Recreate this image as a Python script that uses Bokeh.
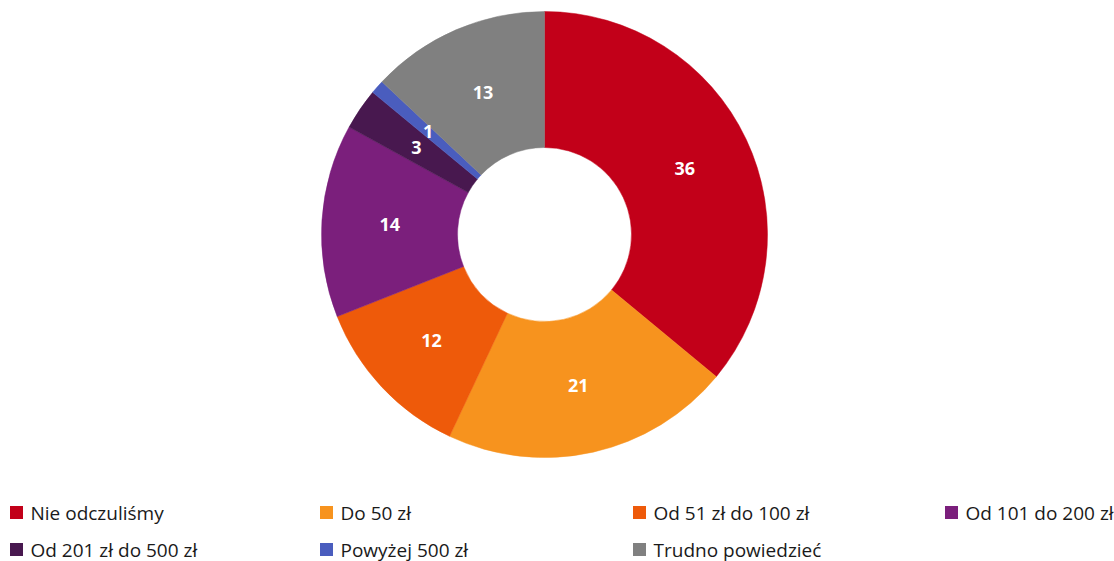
import math
from bokeh.plotting import figure
from bokeh.models import Range1d, ColumnDataSource
from bokeh.core.properties import value
from bokeh.embed import file_html
from bokeh.resources import INLINE

categories = ["Nie odczuliśmy", "Do 50 zł", "Od 51 zł do 100 zł", "Od 101 do 200 zł",
              "Od 201 zł do 500 zł", "Powyżej 500 zł", "Trudno powiedzieć"]
values = [36, 21, 12, 14, 3, 1, 13]
colors = ["#C20019", "#F7931E", "#EE5A0A", "#7B1F7C", "#48184F", "#4A5DBE", "#808080"]

W, H = 1114, 561
PAGE_H = 561

def py(page_y):
    return PAGE_H - page_y

p = figure(width=W, height=H, output_backend="svg", toolbar_location=None,
           x_range=Range1d(0, W), y_range=Range1d(0, H), min_border=0)
p.axis.visible = False
p.grid.visible = False
p.outline_line_color = None
p.background_fill_color = "white"

cx, cy = 544, py(234)
r_in, r_out = 87, 223
total = sum(values)
starts, ends, lx, ly = [], [], [], []
cum = 0
for v in values:
    a0 = math.pi / 2 - 2 * math.pi * cum / total
    a1 = math.pi / 2 - 2 * math.pi * (cum + v) / total
    starts.append(a0)
    ends.append(a1)
    mid = (a0 + a1) / 2
    rm = (r_in + r_out) / 2
    lx.append(cx + rm * math.cos(mid))
    ly.append(cy + rm * math.sin(mid))
    cum += v

src = ColumnDataSource(dict(start=starts, end=ends, color=colors,
                            lx=lx, ly=ly, txt=[str(v) for v in values]))
p.annular_wedge(x=cx, y=cy, inner_radius=r_in, outer_radius=r_out,
                start_angle="start", end_angle="end", direction="clock",
                fill_color="color", line_color="color", line_width=0.5, source=src)
p.text(x="lx", y="ly", text="txt", source=src, text_color="white",
       text_font=value("Open Sans"), text_font_style="bold", text_font_size="18px",
       text_align="center", text_baseline="middle")

# legend
leg_x = [10, 320, 633, 945, 10, 320, 633]
leg_y = [512, 512, 512, 512, 549, 549, 549]
lsrc = ColumnDataSource(dict(x=[x + 6 for x in leg_x], y=[py(y) for y in leg_y],
                             tx=[x + 20 for x in leg_x], color=colors, name=categories))
p.rect(x="x", y="y", width=13, height=13, fill_color="color", line_color=None, source=lsrc)
p.text(x="tx", y="y", text="name", source=lsrc, text_color="#1a1a1a",
       text_font=value("Open Sans"), text_font_size="19px",
       text_align="left", text_baseline="middle")

open("out.html", "w").write(file_html(p, INLINE))
